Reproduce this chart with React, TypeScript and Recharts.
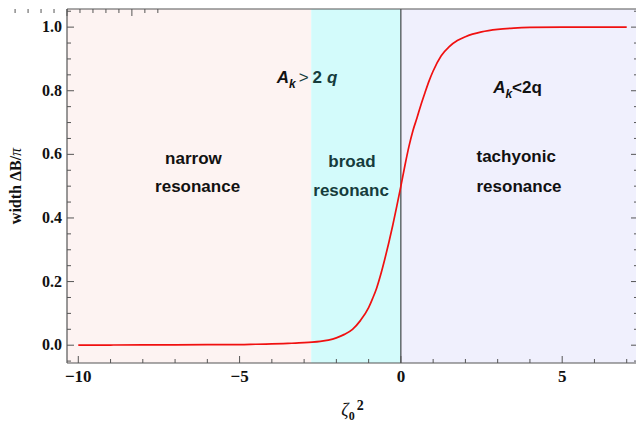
import React from 'react';
import { ComposedChart, Line, XAxis, YAxis, ReferenceArea, ReferenceLine, ReferenceDot } from 'recharts';

// ---- data ----
const zetaSq = [
  -10, -9, -8, -7, -6, -5, -4.5, -4, -3.5, -3, -2.75, -2.5, -2.25, -2, -1.75, -1.5, -1.25, -1,
  -0.875, -0.75, -0.625, -0.5, -0.375, -0.25, -0.125, 0, 0.125, 0.25, 0.375, 0.5, 0.625, 0.75,
  0.875, 1, 1.25, 1.5, 1.75, 2, 2.5, 3, 3.5, 4, 5, 6, 7,
];
const widthDB = [
  0.0, 0.0005, 0.0007, 0.001, 0.0015, 0.002, 0.003, 0.004, 0.0057, 0.0078, 0.0095, 0.012, 0.016, 0.023,
  0.034, 0.05, 0.078, 0.118, 0.147, 0.18, 0.222, 0.27, 0.322, 0.378, 0.438, 0.5, 0.565, 0.625, 0.675,
  0.715, 0.757, 0.795, 0.831, 0.862, 0.91, 0.939, 0.958, 0.97, 0.985, 0.993, 0.997, 0.999, 1.0, 1.0, 1.0,
];
const data = zetaSq.map((z, i) => ({ z, w: widthDB[i] }));

const xMajorTicks = [-10, -5, 0, 5];
const xTickLabels = ['\u221210', '\u22125', '0', '5'];
const xAllTicks = [-10, -9, -8, -7, -6, -5, -4, -3, -2, -1, 0, 1, 2, 3, 4, 5, 6, 7];
const yMajorTicks = [0, 0.2, 0.4, 0.6, 0.8, 1.0];
const yTickLabels = ['0.0', '0.2', '0.4', '0.6', '0.8', '1.0'];
const yAllTicks = [
  -0.05, 0, 0.05, 0.1, 0.15, 0.2, 0.25, 0.3, 0.35, 0.4, 0.45, 0.5, 0.55, 0.6, 0.65, 0.7, 0.75, 0.8,
  0.85, 0.9, 0.95, 1.0, 1.05,
];
const xDomain = [-10.35, 7.35];
const yDomain = [-0.056, 1.057];
const regionEdges = [-10.35, -2.78, 0, 7.35];
const regionNames = ['narrow', 'broad', 'tachyonic'];

// ---- styles ----
const FRAME = '#555555';
const regionColors = ['#fdf3f2', '#d3fbfb', '#f0f0fd'];
const SERIF = '"Liberation Serif", "Times New Roman", serif';
const SANS = '"Liberation Sans", Arial, sans-serif';
const TEAL = '#163c3c';
const MAJ = 7;
const MIN = 4;

const near = (a: number, b: number) => Math.abs(a - b) < 1e-6;
const xIdx = (v: number) => xMajorTicks.findIndex((t) => near(t, v));
const yIdx = (v: number) => yMajorTicks.findIndex((t) => near(t, v));

const BottomTick = (p: any) => {
  const i = xIdx(p.payload.value);
  return (
    <g>
      <line x1={p.x} x2={p.x} y1={p.y} y2={p.y - (i >= 0 ? MAJ : MIN)} stroke={FRAME} strokeWidth={1} />
      {i >= 0 && (
        <text x={p.x} y={p.y + 18.5} textAnchor="middle" fontFamily={SERIF} fontWeight="bold" fontSize={17} fill="#111">
          {xTickLabels[i]}
        </text>
      )}
    </g>
  );
};
const TopTick = (p: any) => {
  const i = xIdx(p.payload.value);
  return <line x1={p.x} x2={p.x} y1={p.y} y2={p.y + (i >= 0 ? MAJ : MIN)} stroke={FRAME} strokeWidth={1} />;
};
const LeftTick = (p: any) => {
  const i = yIdx(p.payload.value);
  return (
    <g>
      <line x1={p.x} x2={p.x + (i >= 0 ? MAJ : MIN)} y1={p.y} y2={p.y} stroke={FRAME} strokeWidth={1} />
      {i >= 0 && (
        <text x={p.x - 5} y={p.y + 5} textAnchor="end" fontFamily={SERIF} fontWeight="bold" fontSize={16} fill="#111">
          {yTickLabels[i]}
        </text>
      )}
    </g>
  );
};
const RightTick = (p: any) => {
  const i = yIdx(p.payload.value);
  return <line x1={p.x} x2={p.x - (i >= 0 ? MAJ : MIN)} y1={p.y} y2={p.y} stroke={FRAME} strokeWidth={1} />;
};

const XLabel = (props: any) => {
  const vb = props.viewBox;
  return (
    <text x={vb.x + vb.width / 2} y={vb.y + 53} textAnchor="middle" fontFamily={SERIF} fill="#111">
      <tspan fontStyle="italic" fontSize={18}>ζ</tspan>
      <tspan fontWeight="bold" fontSize={12} dy={4}>0</tspan>
      <tspan fontWeight="bold" fontSize={14} dx={2} dy={-10}>2</tspan>
    </text>
  );
};
const YLabel = (props: any) => {
  const vb = props.viewBox;
  const cx = vb.x + 12.5;
  const cy = vb.y + 177;
  return (
    <text x={cx} y={cy} transform={`rotate(-90 ${cx} ${cy})`} textAnchor="middle" fontFamily={SERIF} fontWeight="bold" fontSize={16} fill="#111">
      width ΔB/<tspan fontStyle="italic" fontWeight="normal">π</tspan>
    </text>
  );
};

// annotations: anchor (data coords, left edge / baseline)
const plainNotes = [
  { x: -7.31, y: 0.57, text: 'narrow', color: '#111' },
  { x: -7.62, y: 0.482, text: 'resonance', color: '#111' },
  { x: -2.25, y: 0.561, text: 'broad', color: TEAL },
  { x: -2.715, y: 0.47, text: 'resonanc', color: TEAL },
  { x: 2.344, y: 0.576, text: 'tachyonic', color: '#111' },
  { x: 2.344, y: 0.482, text: 'resonance', color: '#111' },
];
const noteBroadCond = { x: -3.85, y: 0.825 };
const noteTachCond = { x: 2.86, y: 0.793 };

const plainShape = (text: string, color: string) => (p: any) => (
  <text x={p.cx} y={p.cy} fontFamily={SANS} fontWeight="bold" fontSize={17} fill={color}>
    {text}
  </text>
);
const broadCondShape = (p: any) => (
  <text x={p.cx} y={p.cy} fontFamily={SANS} fontWeight="bold" fontSize={17} fill="#111">
    <tspan fontStyle="italic">A</tspan>
    <tspan fontStyle="italic" fontSize={12} dy={5}>k</tspan>
    <tspan dy={-5} fill={TEAL} fontWeight="normal" dx={3}>&gt;</tspan>
    <tspan fill={TEAL} dx={4}>2</tspan>
    <tspan fill={TEAL} fontStyle="italic" dx={5}>q</tspan>
  </text>
);
const tachCondShape = (p: any) => (
  <text x={p.cx} y={p.cy} fontFamily={SANS} fontWeight="bold" fontSize={17} fill="#111">
    <tspan fontStyle="italic">A</tspan>
    <tspan fontStyle="italic" fontSize={12} dy={5}>k</tspan>
    <tspan dy={-5}>&lt;2q</tspan>
  </text>
);

export default function App() {
  return (
    <ComposedChart width={636} height={414} data={data} margin={{ top: 0, right: 0, bottom: 0, left: 0 }}>
      <XAxis
        dataKey="z"
        type="number"
        domain={xDomain}
        allowDataOverflow
        ticks={xAllTicks}
        interval={0}
        tick={BottomTick}
        tickLine={false}
        tickSize={0}
        tickMargin={0}
        height={59}
        axisLine={{ stroke: FRAME, strokeWidth: 1.2 }}
        label={XLabel}
      />
      <XAxis
        xAxisId="top"
        orientation="top"
        type="number"
        domain={xDomain}
        allowDataOverflow
        ticks={xAllTicks}
        interval={0}
        tick={TopTick}
        tickLine={false}
        tickSize={0}
        tickMargin={0}
        height={1}
        axisLine={{ stroke: FRAME, strokeWidth: 1.2 }}
      />
      <YAxis
        type="number"
        domain={yDomain}
        allowDataOverflow
        ticks={yAllTicks}
        interval={0}
        tick={LeftTick}
        tickLine={false}
        tickSize={0}
        tickMargin={0}
        width={59}
        axisLine={{ stroke: FRAME, strokeWidth: 1.2 }}
        label={YLabel}
      />
      <YAxis
        yAxisId="right"
        orientation="right"
        type="number"
        domain={yDomain}
        allowDataOverflow
        ticks={yAllTicks}
        interval={0}
        tick={RightTick}
        tickLine={false}
        tickSize={0}
        tickMargin={0}
        width={6}
        axisLine={{ stroke: FRAME, strokeWidth: 1.2 }}
      />
      {regionNames.map((name, i) => (
        <ReferenceArea
          key={name}
          x1={regionEdges[i]}
          x2={regionEdges[i + 1]}
          y1={yDomain[0]}
          y2={yDomain[1]}
          fill={regionColors[i]}
          fillOpacity={1}
          stroke="none"
          ifOverflow="hidden"
        />
      ))}
      <ReferenceLine x={0} stroke="#222" strokeWidth={1} />
      {plainNotes.map((n, i) => (
        <ReferenceDot key={i} x={n.x} y={n.y} r={0} shape={plainShape(n.text, n.color)} />
      ))}
      <ReferenceDot x={noteBroadCond.x} y={noteBroadCond.y} r={0} shape={broadCondShape} />
      <ReferenceDot x={noteTachCond.x} y={noteTachCond.y} r={0} shape={tachCondShape} />
      <Line
        dataKey="w"
        type="monotone"
        stroke="#f01010"
        strokeWidth={1.7}
        dot={false}
        activeDot={false}
        isAnimationActive={false}
      />
    </ComposedChart>
  );
}
